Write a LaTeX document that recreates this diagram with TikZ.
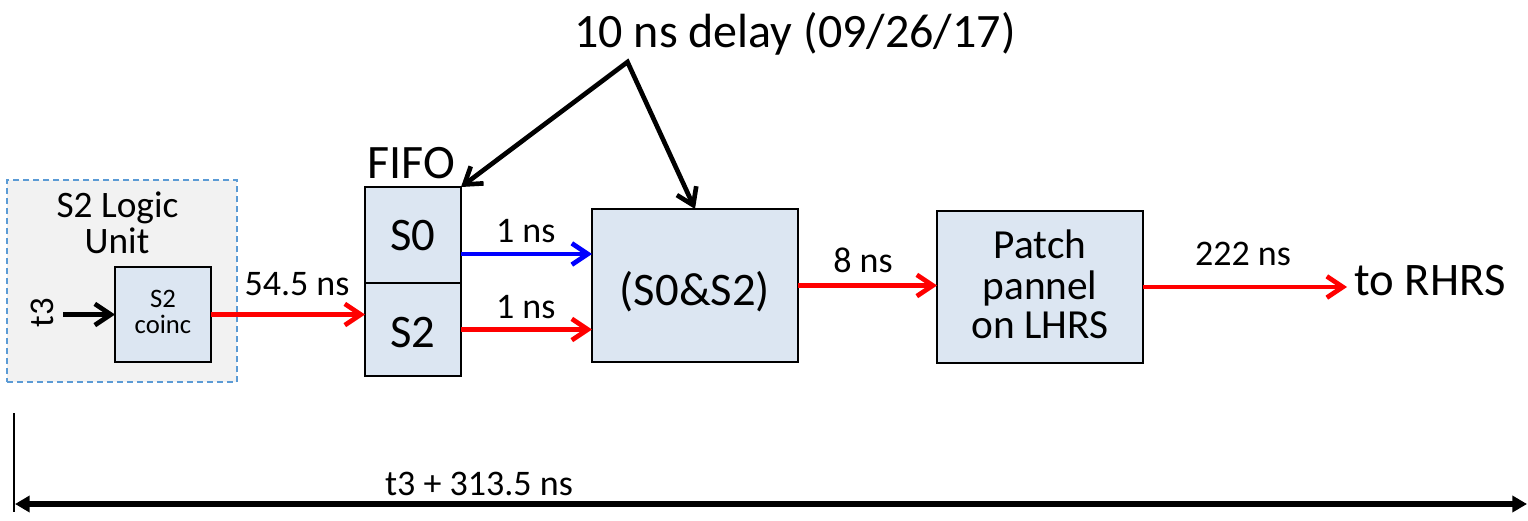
\documentclass[tikz,border=0pt]{standalone}
\usepackage{fontspec}
\setmainfont{Carlito}
\usetikzlibrary{arrows.meta,calc}
\definecolor{boxfill}{RGB}{220,230,242}
\definecolor{unitfill}{RGB}{242,242,242}
\definecolor{unitline}{RGB}{91,155,213}
\definecolor{sigred}{RGB}{255,0,0}
\definecolor{sigblue}{RGB}{0,0,255}
\newcommand{\fsz}[1]{\fontsize{#1}{#1}\selectfont}
\begin{document}
\begin{tikzpicture}[x=0.75pt,y=-0.75pt,
  blk/.style={draw=black, line width=2pt, fill=boxfill, inner sep=0pt, outer sep=0pt},
  unitbox/.style={draw=unitline, line width=1.3pt, dash pattern=on 4.5pt off 3pt, fill=unitfill, inner sep=0pt, outer sep=0pt},
  txt/.style={inner sep=0pt, outer sep=0pt, anchor=base},
  sig/.style={line width=3.5pt, -{Straight Barb[length=12pt,width=16pt]}},
  span/.style={line width=4.2pt, {Triangle[length=11pt,width=12pt]}-{Triangle[length=11pt,width=12pt]}},
  big/.style={txt, font=\fsz{35}},
  lbl/.style={txt, font=\fsz{27}}
]
\useasboundingbox (0,0) rectangle (1528,521);

% blocks
\node[unitbox, minimum width=172.5pt, minimum height=151.5pt] (unit) at (122,281) {};
\node[blk, minimum width=72pt, minimum height=71.25pt] (coinc) at (163,314.5) {};
\node[blk, minimum width=72pt, minimum height=72pt] (s0) at (413,235) {};
\node[blk, minimum width=72pt, minimum height=69.75pt] (s2) at (413,329.5) {};
\node[blk, minimum width=154.5pt, minimum height=114.75pt] (and) at (695,285.5) {};
\node[blk, minimum width=154.5pt, minimum height=114pt] (patch) at (1040,287) {};

% block texts
\node[txt, font=\fsz{28}] (unitA) at (117.5,217) {S2 Logic};
\node[txt, font=\fsz{28}] (unitB) at (117,253) {Unit};
\node[txt, font=\fsz{20}] (coincA) at (163,307) {S2};
\node[txt, font=\fsz{20}] (coincB) at (163,333) {coinc};
\node[txt, font=\fsz{36}] (fifo) at (411.5,178) {FIFO};
\node[big] (s0t) at (413,250) {S0};
\node[big] (s2t) at (413,347) {S2};
\node[big] (andt) at (695,305) {(S0\&S2)};
\node[txt, font=\fsz{31}] (patchA) at (1040,258) {Patch};
\node[txt, font=\fsz{31}] (patchB) at (1040,299) {pannel};
\node[txt, font=\fsz{31}] (patchC) at (1040,338) {on LHRS};
\node[txt, font=\fsz{26}, rotate=90] (t3) at (53,312.5) {t3};
\node[big, anchor=base west] (rhrs) at (1354.5,295) {to RHRS};
\node[txt, font=\fsz{36}] (delay) at (795,47) {10 ns delay (09/26/17)};

% signal path
\coordinate (t3in) at (63,314.5);
\draw[sig, black] (t3in) -- (coinc.west);
\draw[sig, sigred] (coinc.east) -- (coinc.east -| s2.west);
\coordinate (s0out) at ($(s0.east)+(0,19)$);
\draw[sig, sigblue] (s0out) -- (s0out -| and.west);
\draw[sig, sigred] (s2.east) -- (s2.east -| and.west);
\draw[sig, sigred] (and.east) -- (and.east -| patch.west);
\coordinate (rhrsend) at (1347,287);
\draw[sig, sigred] (patch.east) -- (rhrsend);

% delay labels
\node[lbl] (d1) at (297,295) {54.5 ns};
\node[lbl] (d2) at (525.7,242) {1 ns};
\node[lbl] (d3) at (525.7,318) {1 ns};
\node[lbl] (d4) at (863,272) {8 ns};
\node[lbl] (d5) at (1243,265) {222 ns};

% delay annotation
\coordinate (apex) at (627.5,62);
\draw[line width=3.5pt, black, line join=miter, {Straight Barb[length=12pt,width=16pt]}-{Straight Barb[length=12pt,width=16pt]}]
  (s0.north east) -- (apex) -- (and.north);

% total latency
\coordinate (tickT) at (13.5,413);
\coordinate (tickB) at (13.5,512);
\draw[line width=1.5pt] (tickT) -- (tickB);
\coordinate (spanL) at (15,504);
\coordinate (spanR) at (1527,504);
\draw[span] (spanL) -- (spanR);
\node[txt, font=\fsz{27}] (total) at (479,495) {t3 + 313.5 ns};
\end{tikzpicture}
\end{document}
